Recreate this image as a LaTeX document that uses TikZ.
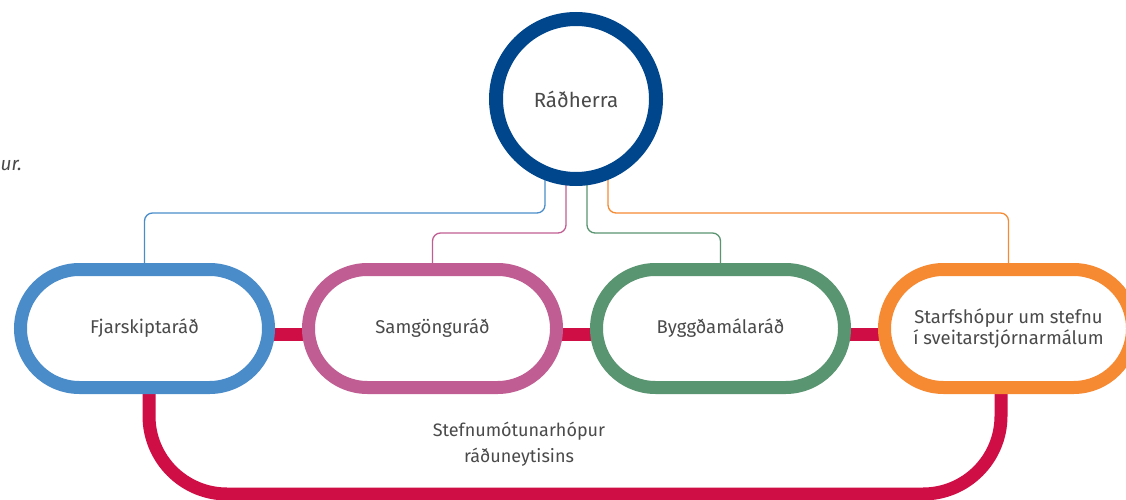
\documentclass[tikz,border=0pt]{standalone}
\usepackage{fontspec}
\setmainfont{Fira Sans}
\usetikzlibrary{shapes.misc,backgrounds,calc}
\definecolor{navy}{HTML}{00468C}
\definecolor{cblue}{HTML}{4A8CCA}
\definecolor{cpink}{HTML}{C05E93}
\definecolor{cgreen}{HTML}{5A9572}
\definecolor{corange}{HTML}{F58A33}
\definecolor{cred}{HTML}{CF0E46}
\definecolor{txt}{HTML}{4A4A4A}
\tikzset{
  pill/.style={shape=rounded rectangle, draw=#1, fill=white, line width=13pt,
    minimum width=248pt, minimum height=118pt, inner sep=0pt, text=txt,
    font=\fontsize{18.5}{21}\selectfont, align=center},
  headcircle/.style={circle, draw=navy, fill=white, line width=14pt,
    minimum size=160pt, inner sep=0pt, text=txt, font=\fontsize{20.5}{24}\selectfont},
  link/.style={draw=#1, line width=1.3pt, rounded corners=8pt},
  redband/.style={draw=cred, line width=13pt},
  plaintext/.style={text=txt, inner sep=0pt, align=center}
}
\begin{document}
\begin{tikzpicture}[x=1pt,y=-1pt]
\useasboundingbox (0,0) rectangle (1126,500);

\node[plaintext, anchor=base west, font=\fontsize{19}{21}\selectfont\itshape] (cut) at (0.5,170) {ur.};

\node[headcircle] (r) at (576,99) {Ráðherra};
\node[pill=cblue] (f) at (144.5,328.5) {Fjarskiptaráð};
\node[pill=cpink] (s) at (432.5,328.5) {Samgönguráð};
\node[pill=cgreen] (b) at (720.5,328.5) {Byggðamálaráð};
\node[pill=corange] (st) at (1008.5,328.5) {Starfshópur um stefnu\\í sveitarstjórnarmálum};

\node[plaintext, font=\fontsize{18}{26}\selectfont] (grp) at (519,444) {Stefnumótunarhópur\\ráðuneytisins};

\begin{pgfonlayer}{background}
  \fill[white] (0,0) rectangle (1126,500);
  % group band
  \draw[redband] ($(f.center)+(0,5.5)$) -- ($(st.center)+(0,5.5)$);
  \draw[redband, rounded corners=78pt] ($(f.center)+(4.5,5.5)$) |- ($(st.center)+(-7.5,165.5)$) -- ($(st.center)+(-7.5,5.5)$);
  % links from the minister
  \draw[link=cblue] ($(r.center)+(-31,60)$) -- ($(r.center)+(-31,114)$) -| (f.center);
  \draw[link=cpink] ($(r.center)+(-10,60)$) -- ($(r.center)+(-10,134)$) -| (s.center);
  \draw[link=cgreen] ($(r.center)+(11,60)$) -- ($(r.center)+(11,134)$) -| (b.center);
  \draw[link=corange] ($(r.center)+(32,60)$) -- ($(r.center)+(32,114)$) -| (st.center);
\end{pgfonlayer}
\end{tikzpicture}
\end{document}
